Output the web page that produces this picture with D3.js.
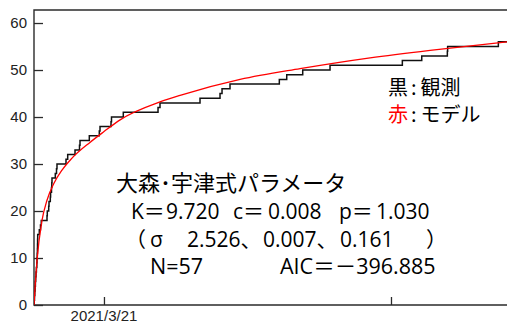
<!DOCTYPE html>
<html>
<head>
<meta charset="utf-8">
<script src="https://cdn.jsdelivr.net/npm/d3@7"></script>
<style>
  html, body { margin: 0; padding: 0; background: #fff; }
  svg { display: block; }
</style>
</head>
<body>
<svg id="chart" width="507" height="325"></svg>
<script>
// Time axis: elapsed time from the mainshock (2021/3/20 18:09)
const mainshock = new Date(2021, 2, 20, 18, 9);
const endTime = new Date(2021, 2, 22, 9, 42);
const xTicks = [new Date(2021, 2, 21), new Date(2021, 2, 22)];
const xTickLabels = ["2021/3/21", ""];
const yTicks = [0, 10, 20, 30, 40, 50, 60];

// Observed cumulative number of aftershocks (elapsed days, count after the event)
const stepDays = [0, 0.0007, 0.0017, 0.0028, 0.0038, 0.0049, 0.0059, 0.0070, 0.0084, 0.0098,
  0.0105, 0.0111, 0.0118, 0.0122, 0.0125, 0.0129, 0.0185, 0.0226, 0.0254, 0.0453,
  0.0463, 0.0512, 0.0523, 0.0568, 0.0578, 0.0610, 0.0620, 0.0627, 0.0742, 0.0784,
  0.0801, 0.1115, 0.1174, 0.1429, 0.1585, 0.1603, 0.1927, 0.2275, 0.2300, 0.2683,
  0.2700, 0.3111, 0.4321, 0.4390, 0.5784, 0.6481, 0.6551, 0.6829, 0.8547, 0.8805,
  0.9362, 1.0314, 1.2833, 1.3509, 1.4401, 1.4411, 1.6178, 1.6480];
const stepCount = [0, 1, 2, 3, 4, 5, 6, 7, 8, 9,
  10, 11, 12, 13, 14, 15, 16, 17, 18, 19,
  20, 21, 22, 23, 24, 25, 26, 27, 28, 29,
  30, 31, 32, 33, 34, 35, 36, 37, 38, 39,
  40, 41, 42, 43, 44, 45, 46, 47, 48, 49,
  50, 51, 52, 53, 54, 55, 56, 56];

// Omori-Utsu model curve (elapsed days, expected cumulative count)
const modelDays = [0, 0.0045, 0.0105, 0.0279, 0.0453, 0.0686, 0.0976, 0.130, 0.195, 0.244,
  0.300, 0.439, 0.509, 0.718, 0.927, 1.171, 1.380, 1.648];
const modelCount = [0, 4.5, 9.5, 18.0, 22.3, 25.8, 28.7, 31.1, 34.6, 36.9,
  39.4, 43.2, 44.6, 48.0, 50.3, 52.6, 54.2, 56.0];

const legendLines = [
  { key: "黒", keyColor: "#000", rest: "観測" },
  { key: "赤", keyColor: "#ff0000", rest: "モデル" }
];

const DAY = 864e5;
const toDate = d => new Date(mainshock.getTime() + d * DAY);

const svg = d3.select("#chart");
const plotLeft = 34, plotRight = 507, plotTop = 10, plotBottom = 305;

const x = d3.scaleTime().domain([mainshock, endTime]).range([plotLeft, plotRight]);
const y = d3.scaleLinear().domain([0, 62.77]).range([plotBottom, plotTop]);

svg.append("defs").append("clipPath").attr("id", "plotClip")
  .append("rect").attr("x", plotLeft).attr("y", plotTop)
  .attr("width", plotRight - plotLeft + 2).attr("height", plotBottom - plotTop);

const axisColor = "#2b2b2b";
const tickFont = "'Liberation Sans', Arial, sans-serif";

// Y axis: ticks inside the frame, labels on the left
const yAxis = d3.axisRight(y).tickValues(yTicks).tickSize(9).tickFormat("");
const yg = svg.append("g").attr("transform", `translate(${plotLeft},0)`).call(yAxis);
yg.select(".domain").remove();
yg.selectAll(".tick line").attr("stroke", axisColor).attr("stroke-width", 1.3);
svg.append("g").selectAll("text").data(yTicks).join("text")
  .attr("x", 27).attr("y", d => y(d)).attr("dy", "0.35em")
  .attr("text-anchor", "end")
  .attr("font-family", tickFont).attr("font-size", 15).attr("fill", "#222")
  .text(d => d);

// X axis: ticks pointing up into the plot
const xAxis = d3.axisTop(x).tickValues(xTicks).tickSize(8).tickFormat("");
const xg = svg.append("g").attr("transform", `translate(0,${plotBottom})`).call(xAxis);
xg.select(".domain").remove();
xg.selectAll(".tick line").attr("stroke", axisColor).attr("stroke-width", 1.3);
svg.append("g").selectAll("text").data(xTicks).join("text")
  .attr("x", d => x(d)).attr("y", 321)
  .attr("text-anchor", "middle")
  .attr("font-family", tickFont).attr("font-size", 15).attr("fill", "#222")
  .text((d, i) => xTickLabels[i]);

// Frame: top, left and bottom edges
svg.append("path")
  .attr("d", `M${plotRight + 2},${plotTop}H${plotLeft}V${plotBottom}H${plotRight + 2}`)
  .attr("fill", "none").attr("stroke", axisColor).attr("stroke-width", 1.4);

const plot = svg.append("g").attr("clip-path", "url(#plotClip)");

// Observed step curve
const obs = stepDays.map((d, i) => [toDate(d), stepCount[i]]);
plot.append("path").datum(obs)
  .attr("d", d3.line().x(d => x(d[0])).y(d => y(d[1])).curve(d3.curveStepAfter))
  .attr("fill", "none").attr("stroke", "#111").attr("stroke-width", 1.5);

// Model curve
const model = modelDays.map((d, i) => [toDate(d), modelCount[i]]);
plot.append("path").datum(model)
  .attr("d", d3.line().x(d => x(d[0])).y(d => y(d[1])).curve(d3.curveMonotoneX))
  .attr("fill", "none").attr("stroke", "#ff0000").attr("stroke-width", 1.3);

// Legend (one text block, two lines)
const cjk = "'Noto Sans CJK JP', sans-serif";
const legend = svg.append("text").attr("font-family", cjk).attr("font-size", 20).attr("fill", "#000");
legendLines.forEach((l, i) => {
  legend.append("tspan").attr("x", 388).attr("y", 95 + i * 27).attr("fill", l.keyColor).text(l.key);
  legend.append("tspan").attr("dx", 3).text(":");
  legend.append("tspan").attr("dx", 4).text(l.rest);
});

// Parameter block
const params = svg.append("g").attr("fill", "#000");
params.append("text").attr("x", 116).attr("y", 191)
  .attr("font-family", cjk).attr("font-size", 22)
  .text("大森･宇津式パラメータ");

const numFont = "'Open Sans', 'Noto Sans CJK JP', sans-serif";
const paramRows = [
  { y: 219, size: 21, items: [[131, "K＝"], [166, "9.720"], [233, "c＝"], [268, "0.008"], [339, "p＝"], [376, "1.030"]] },
  { y: 247, size: 21, items: [[125, "（"], [150, "σ"], [187, "2.526、"], [263, "0.007、"], [340, "0.161"], [426, "）"]] },
  { y: 274, size: 21.5, items: [[150, "N=57"], [280, "AIC＝－396.885"]] }
];
paramRows.forEach(row => {
  row.items.forEach(([px, s]) => {
    params.append("text").attr("x", px).attr("y", row.y)
      .attr("font-family", numFont).attr("font-size", row.size)
      .text(s);
  });
});
</script>
</body>
</html>
